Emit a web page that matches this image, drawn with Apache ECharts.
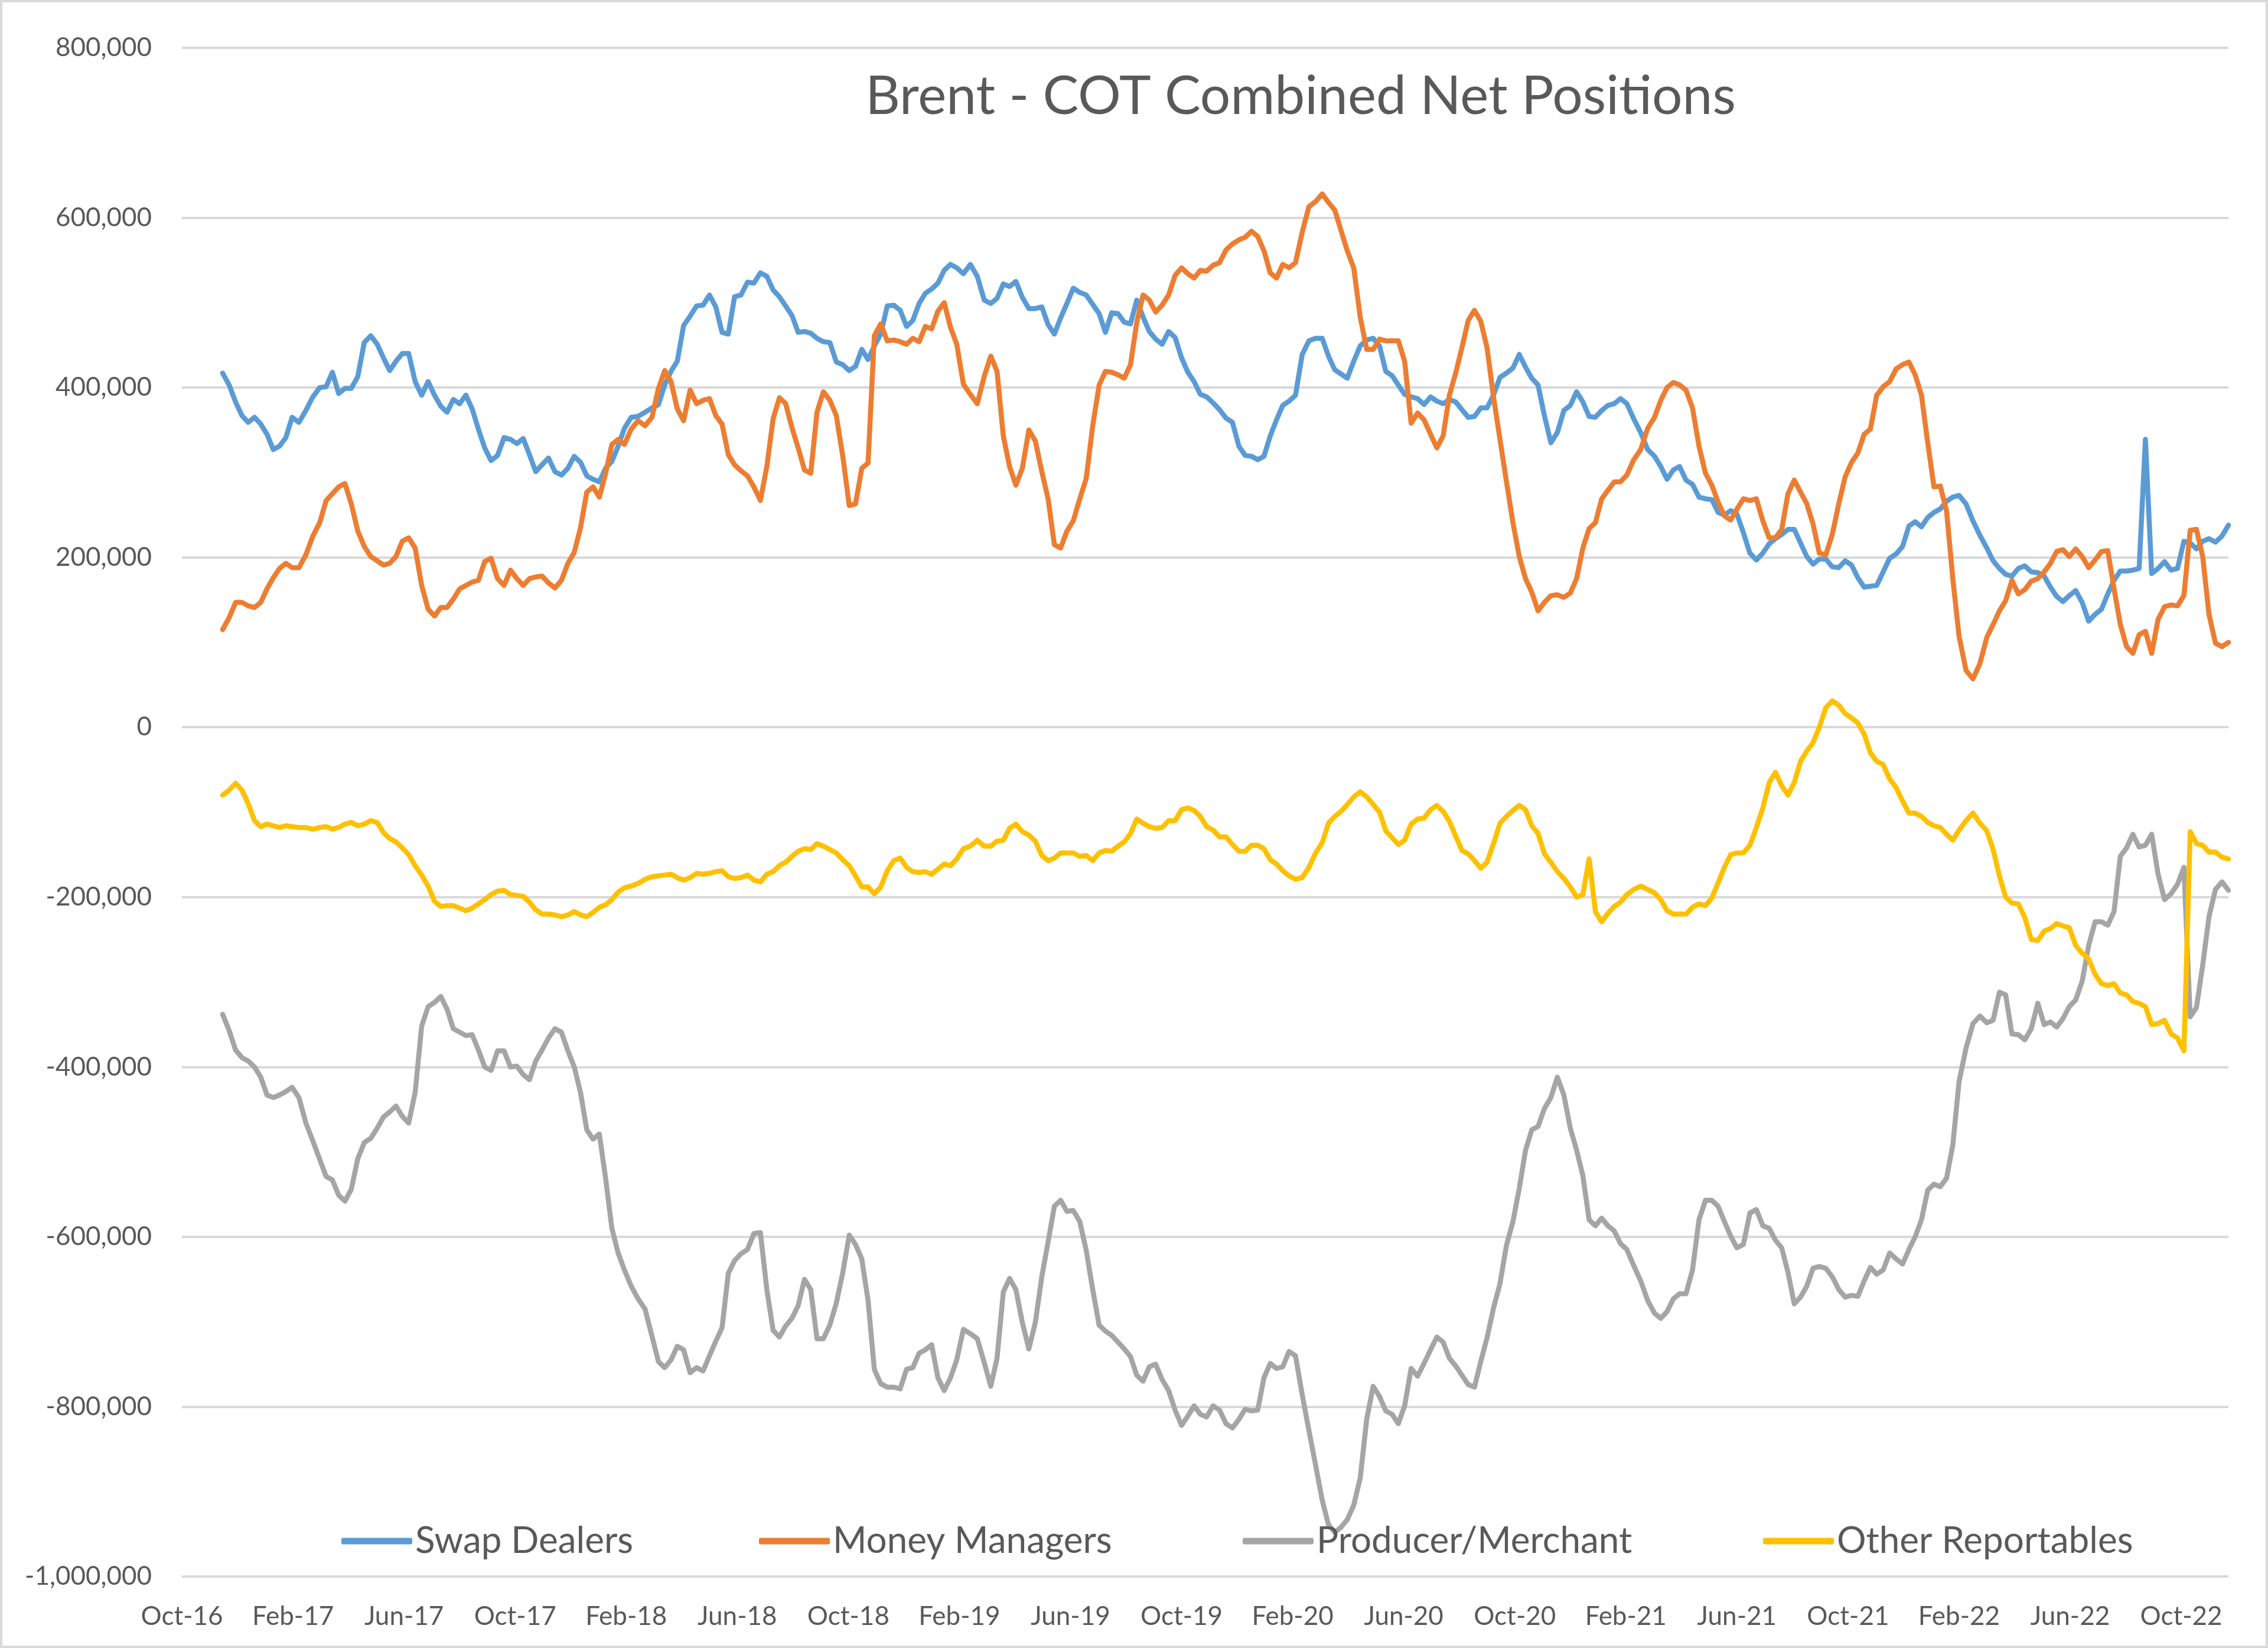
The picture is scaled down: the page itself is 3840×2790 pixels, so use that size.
<!DOCTYPE html>
<html>
<head>
<meta charset="utf-8">
<script src="https://cdn.jsdelivr.net/npm/echarts@6/dist/echarts.min.js"></script>
<style>
html,body{margin:0;padding:0;background:#ffffff;}
#chart{width:3840px;height:2790px;}
</style>
</head>
<body>
<div id="chart"></div>
<script>
// ---------- DATA ----------
const chartTitle = 'Brent - COT Combined Net Positions';
const firstReportDate = [2016, 11, 15];   // weekly (Tuesday) report dates start here
const seriesNames = ['Swap Dealers', 'Money Managers', 'Producer/Merchant', 'Other Reportables'];
const xTickLabels = ['Oct-16','Feb-17','Jun-17','Oct-17','Feb-18','Jun-18','Oct-18','Feb-19','Jun-19','Oct-19',
  'Feb-20','Jun-20','Oct-20','Feb-21','Jun-21','Oct-21','Feb-22','Jun-22','Oct-22'];
const yMin = -1000000, yMax = 800000, yStep = 200000;

// net positions, thousands of contracts, one value per weekly report
const swapDealersK = [
417,403,383,367,359,365,357,345,327,331,
341,365,359,373,389,400,401,418,393,399,
399,413,453,461,451,435,420,431,440,440,
407,391,407,391,378,371,386,381,391,375,
351,329,314,320,341,339,334,340,321,301,
309,317,301,297,305,319,312,296,292,289,
305,313,331,352,365,366,371,376,380,403,
419,431,473,484,496,497,509,495,465,463,
507,509,524,523,535,531,515,507,496,485,
465,466,464,458,454,453,430,427,420,425,
445,433,449,463,496,497,491,472,479,499,
511,516,523,538,545,541,534,545,531,503,
499,505,522,519,525,506,493,493,495,474,
463,482,499,517,512,509,498,487,465,488,
487,477,475,503,483,466,457,451,466,459,
435,418,407,392,389,382,374,364,359,331,
320,319,315,319,343,362,379,384,391,439,
455,458,458,437,421,416,411,431,449,456,
458,449,419,414,403,392,389,387,380,389,
384,381,386,383,374,365,366,376,376,391,
412,417,423,439,424,411,403,367,335,347,
373,379,395,383,366,365,373,379,381,387,
381,363,347,327,319,307,292,303,307,291,
286,271,269,268,253,250,255,251,229,205,
197,205,216,222,227,233,233,217,201,192,
198,198,189,188,196,191,176,165,166,167,
183,199,204,213,237,242,236,247,253,257,
266,271,273,263,243,226,211,196,187,180,
178,187,190,183,182,178,165,154,148,155,
161,147,125,133,139,157,173,184,184,185,
187,339,181,187,195,185,187,219,217,210,
219,222,218,225,238];

const moneyManagersK = [
115,129,147,147,143,141,147,163,176,187,
193,188,188,203,225,241,267,275,283,287,
263,231,213,201,196,191,193,201,219,223,
211,167,139,131,141,141,151,163,167,171,
173,195,199,175,167,185,175,167,175,177,
178,170,164,173,193,206,235,277,283,271,
299,333,339,333,351,361,355,365,399,420,
407,375,361,397,381,385,387,367,357,321,
309,302,296,283,267,307,363,388,381,353,
329,303,299,371,395,385,367,319,261,263,
305,311,461,475,455,456,454,451,458,454,
472,469,490,500,471,451,404,392,381,413,
437,419,343,307,285,305,350,337,301,269,
215,211,231,243,269,293,355,403,419,418,
415,411,427,477,509,503,489,497,509,532,
541,534,529,538,537,544,547,562,569,574,
577,584,578,561,535,529,545,541,547,583,
613,619,628,618,609,585,561,541,483,445,
445,457,455,455,455,431,358,370,362,345,
329,343,391,417,447,479,491,478,447,389,
339,289,241,201,175,159,137,147,155,156,
153,158,175,211,234,241,269,279,289,289,
297,315,327,352,365,385,400,406,403,397,
376,331,299,285,265,249,244,257,269,267,
269,243,223,223,233,275,291,277,263,239,
205,203,227,263,295,312,323,345,351,391,
401,407,422,427,430,415,391,335,283,284,
255,175,107,67,57,75,106,121,137,149,
173,157,162,172,175,183,193,207,209,201,
210,201,188,197,207,208,163,121,95,87,
109,113,87,127,142,144,143,155,232,233,
201,133,99,95,100];

const producerMerchantK = [
-338,-357,-380,-389,-393,-400,-412,-433,-436,-433,
-429,-424,-436,-466,-487,-509,-529,-533,-551,-558,
-544,-508,-489,-484,-472,-459,-453,-446,-458,-466,
-430,-352,-329,-324,-317,-332,-355,-359,-363,-362,
-380,-400,-404,-381,-381,-400,-399,-409,-415,-393,
-380,-366,-355,-359,-381,-400,-430,-474,-485,-479,
-531,-590,-619,-639,-658,-673,-685,-717,-747,-754,
-745,-729,-733,-760,-754,-758,-740,-723,-707,-643,
-628,-620,-615,-596,-595,-662,-710,-718,-705,-696,
-681,-650,-662,-720,-720,-704,-678,-642,-598,-609,
-626,-675,-756,-773,-777,-777,-779,-756,-754,-737,
-733,-727,-766,-781,-766,-745,-709,-714,-720,-748,
-776,-743,-665,-649,-662,-701,-732,-701,-647,-606,
-564,-557,-570,-569,-582,-616,-662,-704,-711,-716,
-724,-732,-741,-763,-770,-753,-750,-768,-781,-804,
-822,-811,-799,-809,-812,-799,-804,-820,-825,-815,
-803,-805,-804,-766,-749,-755,-753,-735,-740,-786,
-828,-869,-910,-939,-948,-942,-933,-916,-884,-815,
-776,-788,-805,-809,-820,-799,-755,-764,-749,-733,
-718,-724,-743,-752,-763,-774,-777,-747,-719,-684,
-655,-610,-582,-543,-498,-474,-470,-449,-436,-412,
-433,-472,-498,-528,-580,-587,-578,-587,-593,-608,
-615,-634,-652,-675,-690,-696,-688,-673,-667,-667,
-639,-580,-557,-557,-564,-582,-599,-613,-609,-572,
-568,-587,-590,-604,-613,-642,-679,-671,-658,-637,
-635,-637,-647,-662,-671,-669,-670,-652,-636,-644,
-639,-619,-626,-632,-615,-600,-580,-545,-538,-541,
-531,-492,-417,-378,-349,-340,-348,-345,-312,-315,
-361,-362,-368,-355,-325,-350,-347,-353,-343,-329,
-321,-299,-257,-229,-229,-233,-217,-152,-142,-126,
-141,-139,-126,-173,-203,-196,-185,-165,-341,-330,
-280,-223,-191,-182,-192];

const otherReportablesK = [
-80,-74,-66,-74,-90,-110,-117,-114,-116,-118,
-116,-117,-118,-118,-120,-118,-117,-120,-118,-114,
-112,-116,-114,-110,-112,-124,-131,-135,-142,-150,
-163,-174,-187,-205,-211,-210,-210,-213,-216,-213,
-208,-203,-197,-193,-192,-197,-198,-199,-206,-215,
-220,-220,-221,-223,-221,-217,-221,-223,-218,-212,
-209,-203,-194,-189,-187,-184,-179,-176,-175,-174,
-173,-177,-180,-177,-172,-173,-172,-170,-169,-176,
-178,-177,-174,-180,-182,-173,-170,-163,-159,-152,
-146,-143,-144,-137,-140,-144,-148,-156,-163,-175,
-188,-188,-196,-188,-169,-157,-154,-165,-170,-171,
-170,-173,-167,-161,-163,-155,-143,-140,-133,-140,
-140,-134,-133,-119,-114,-123,-127,-134,-151,-157,
-154,-148,-148,-148,-152,-151,-157,-148,-145,-146,
-140,-135,-125,-108,-113,-117,-119,-118,-110,-110,
-97,-95,-98,-105,-117,-121,-129,-129,-138,-146,
-146,-139,-139,-143,-156,-161,-169,-175,-179,-177,
-165,-148,-136,-113,-105,-99,-91,-82,-76,-82,
-91,-100,-122,-130,-138,-133,-114,-108,-107,-97,
-92,-99,-111,-128,-145,-149,-157,-166,-159,-137,
-113,-105,-98,-92,-97,-116,-125,-149,-159,-170,
-178,-188,-200,-197,-155,-217,-229,-219,-211,-206,
-197,-191,-187,-191,-195,-203,-216,-220,-220,-220,
-212,-208,-210,-201,-183,-165,-150,-148,-148,-139,
-118,-95,-65,-53,-69,-80,-65,-40,-28,-18,
0,23,31,26,16,11,5,-8,-30,-40,
-44,-61,-71,-87,-101,-101,-105,-112,-116,-118,
-126,-133,-121,-110,-101,-113,-122,-144,-175,-200,
-207,-208,-224,-250,-251,-240,-237,-231,-234,-236,
-257,-266,-273,-291,-302,-304,-302,-313,-315,-323,
-325,-329,-350,-349,-345,-361,-366,-381,-123,-137,
-139,-147,-147,-153,-155];

const seriesColors = ['#5b9bd5', '#ed7d31', '#a5a5a5', '#ffc000'];

// ---------- HELPERS ----------
// x position in months since 1 Oct 2016 (the axis origin, label "Oct-16")
function monthsSinceOct16(d) {
  const y = d.getUTCFullYear(), m = d.getUTCMonth(), day = d.getUTCDate();
  const dim = new Date(Date.UTC(y, m + 1, 0)).getUTCDate();
  return (y - 2016) * 12 + (m - 9) + (day - 1) / dim;
}
const nWeeks = swapDealersK.length;
const start = Date.UTC(firstReportDate[0], firstReportDate[1] - 1, firstReportDate[2]);
const reportX = [];
for (let i = 0; i < nWeeks; i++) reportX.push(monthsSinceOct16(new Date(start + i * 7 * 86400000)));
const xMax = reportX[reportX.length - 1];

function fmtThousands(v) {
  const s = String(Math.abs(Math.round(v))).replace(/\B(?=(\d{3})+(?!\d))/g, ',');
  return (v < 0 ? '-' : '') + s;
}
function toSeries(valsK) { return valsK.map((v, i) => [reportX[i], v * 1000]); }

const allVals = [swapDealersK, moneyManagersK, producerMerchantK, otherReportablesK];
const FONT = 'Lato, "Open Sans", sans-serif';
const TXT = '#595959';

const legendLefts = [578, 1285, 2104, 2985];

const option = {
  animation: false,
  backgroundColor: '#ffffff',
  grid: { left: 308, right: 67, top: 81, bottom: 121, containLabel: false },
  xAxis: {
    type: 'value', min: 0, max: xMax, interval: 4,
    axisLine: { show: false }, axisTick: { show: false }, splitLine: { show: false },
    axisLabel: {
      show: true, margin: 46, color: TXT, fontFamily: FONT, fontSize: 44,
      showMaxLabel: false,
      formatter: function (v) {
        const k = v / 4;
        if (Math.abs(k - Math.round(k)) > 1e-6) return '';
        return xTickLabels[Math.round(k)] || '';
      }
    }
  },
  yAxis: {
    type: 'value', min: yMin, max: yMax, interval: yStep,
    axisLine: { show: false }, axisTick: { show: false },
    splitLine: { show: true, lineStyle: { color: '#d9d9d9', width: 4 } },
    axisLabel: { margin: 51, color: TXT, fontFamily: FONT, fontSize: 44, formatter: fmtThousands }
  },
  legend: seriesNames.map((n, i) => ({
    data: [n], left: legendLefts[i], top: 2578, padding: 0, itemGap: 0,
    icon: 'roundRect', itemWidth: 120, itemHeight: 11,
    textStyle: { color: TXT, fontFamily: FONT, fontSize: 62 }
  })),
  series: seriesNames.map((n, i) => ({
    name: n, type: 'line', data: toSeries(allVals[i]),
    showSymbol: false, symbol: 'none', smooth: false,
    color: seriesColors[i],
    itemStyle: { color: seriesColors[i] },
    lineStyle: { color: seriesColors[i], width: 8.5, cap: 'round', join: 'round' },
    emphasis: { disabled: true }
  })),
  graphic: [
    { type: 'rect', silent: true, z: 100,
      shape: { x: 2, y: 2, width: 3836, height: 2786 },
      style: { fill: 'none', stroke: '#d9d9d9', lineWidth: 4 } },
    { type: 'text', silent: true, z: 100, x: 2202, y: 164,
      style: { text: chartTitle, font: '91px ' + FONT, fill: TXT,
               align: 'center', verticalAlign: 'middle',
               textAlign: 'center', textVerticalAlign: 'middle' } }
  ]
};

const chart = echarts.init(document.getElementById('chart'), null, { renderer: 'canvas', width: 3840, height: 2790 });
chart.setOption(option);
</script>
</body>
</html>
